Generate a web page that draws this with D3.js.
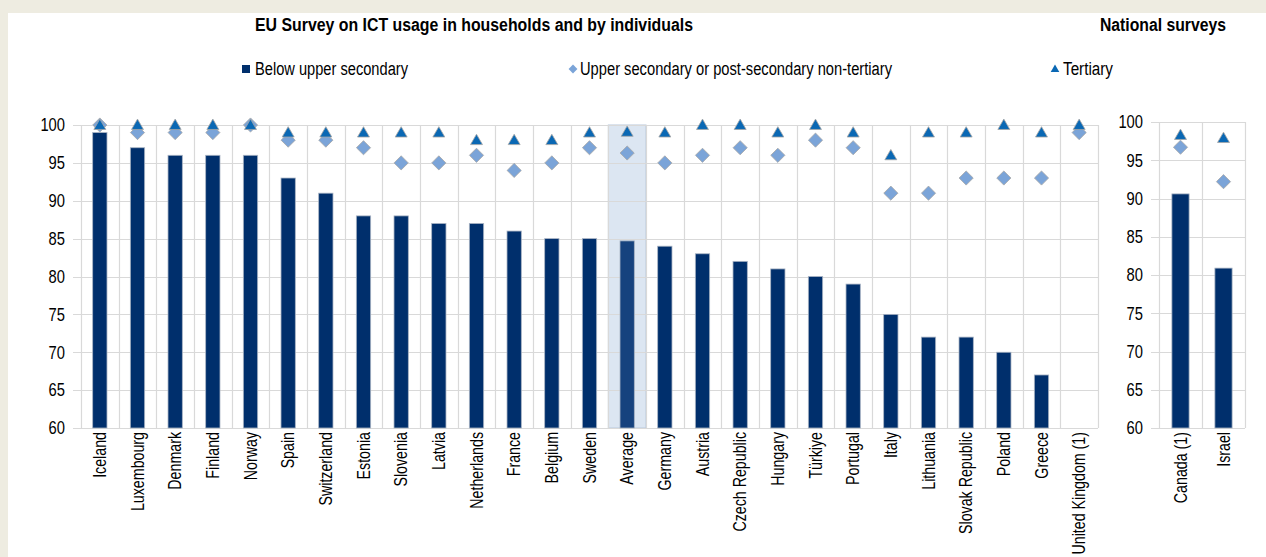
<!DOCTYPE html>
<html><head><meta charset="utf-8">
<script src="https://cdn.jsdelivr.net/npm/d3@7"></script>
<style>
html,body{margin:0;padding:0;background:#EEECE1;}
svg{display:block;}
</style></head>
<body>
<script>
const categories = ["Iceland","Luxembourg","Denmark","Finland","Norway","Spain","Switzerland","Estonia","Slovenia","Latvia","Netherlands","France","Belgium","Sweden","Average","Germany","Austria","Czech Republic","Hungary","Türkiye","Portugal","Italy","Lithuania","Slovak Republic","Poland","Greece","United Kingdom (1)"];
const belowUpper = [99,97,96,96,96,93,91,88,88,87,87,86,85,85,84.7,84,83,82,81,80,79,75,72,72,70,67,null];
const upperSecondary = [100,99,99,99,100,98,98,97,95,95,96,94,95,97,96.3,95,96,97,96,98,97,91,91,93,93,93,99];
const tertiary = [100,100,100,100,100,99,99,99,99,99,98,98,98,99,99.1,99,100,100,99,100,99,96,99,99,100,99,100];

const natCategories = ["Canada (1)","Israel"];
const natBelowUpper = [90.6, 80.9];
const natUpperSecondary = [96.7, 92.2];
const natTertiary = [98.3, 97.9];

const yTicks = [60,65,70,75,80,85,90,95,100];
const seriesNames = ["Below upper secondary","Upper secondary or post-secondary non-tertiary","Tertiary"];
const titles = ["EU Survey on ICT usage in households and by individuals","National surveys"];

const W = 1266, H = 557;
const SANS = "'Liberation Sans',Arial,sans-serif";
const SX = 0.82; // condensed look
const SXC = 0.79;
const C_BAR = "#002F6C", C_AVG = "#16427E", C_DIA = "#7BA4D8", C_TRI = "#0A68B4", C_GRID = "#D9D9D9";

const svg = d3.select("body").append("svg").attr("width", W).attr("height", H);
svg.append("rect").attr("x",0).attr("y",0).attr("width",W).attr("height",H).attr("fill","#EEECE1");
svg.append("rect").attr("x",8).attr("y",13).attr("width",W-8).attr("height",H-13).attr("fill","#fff");

function fitText(g, x, y, str, len, bold){
  return g.append("text").attr("x",x).attr("y",y).attr("font-family",SANS).attr("font-size",18)
    .attr("font-weight",bold?"bold":"normal").attr("fill","#000")
    .attr("textLength",len).attr("lengthAdjust","spacingAndGlyphs").text(str);
}

fitText(svg, 255, 31, titles[0], 438, true);
fitText(svg, 1100, 31, titles[1], 126, true);

const lg = svg.append("g");
lg.append("rect").attr("x",242).attr("y",65).attr("width",8).attr("height",8).attr("fill",C_BAR);
fitText(lg, 255, 75, seriesNames[0], 153, false);
lg.append("path").attr("d",d3.symbol(d3.symbolDiamond2, 50)()).attr("transform","translate(573,69)").attr("fill",C_DIA);
fitText(lg, 580, 75, seriesNames[1], 312, false);
lg.append("path").attr("d",d3.symbol(d3.symbolTriangle, 32)()).attr("transform","translate(1055,69.5)").attr("fill",C_TRI);
fitText(lg, 1063, 75, seriesNames[2], 50, false);

function panel(opts){
  const {cats, below, upper, tert, x0, x1, yTop, yBot, barFrac, labelX, highlight} = opts;
  const g = svg.append("g");
  const x = d3.scaleBand().domain(cats).range([x0,x1]).padding(0);
  const y = d3.scaleLinear().domain([60,100]).range([yBot,yTop]);
  const bw = x.bandwidth()*barFrac;

  if (highlight){
    g.append("rect").attr("x",x(highlight)).attr("y",yTop).attr("width",x.bandwidth()).attr("height",yBot-yTop)
      .attr("fill","#DCE6F2").attr("stroke","#B8C8DC").attr("stroke-width",1);
  }
  g.selectAll(".hg").data(yTicks).join("line")
    .attr("x1",x0-8).attr("x2",x1).attr("y1",d=>Math.round(y(d))+0.5).attr("y2",d=>Math.round(y(d))+0.5)
    .attr("stroke",C_GRID).attr("stroke-width",1.2);
  const bounds = cats.map(c=>x(c)).concat([x1]);
  g.selectAll(".vg").data(bounds).join("line")
    .attr("x1",d=>Math.round(d)+0.5).attr("x2",d=>Math.round(d)+0.5).attr("y1",yTop).attr("y2",yBot)
    .attr("stroke",C_GRID).attr("stroke-width",1.2);

  g.selectAll(".yl").data(yTicks).join("text")
    .attr("transform",d=>`translate(${labelX},${y(d)}) scale(${SX},1)`)
    .attr("dy","0.35em").attr("text-anchor","end")
    .attr("font-family",SANS).attr("font-size",18).attr("fill","#000").text(d=>d);

  const bdata = cats.map((c,i)=>({c, v: below[i]})).filter(d=>d.v!=null);
  g.selectAll(".bar").data(bdata).join("rect")
    .attr("x",d=>x(d.c)+x.bandwidth()/2-bw/2).attr("width",bw)
    .attr("y",d=>y(d.v)).attr("height",d=>yBot-y(d.v))
    .attr("fill",d=>d.c===highlight?C_AVG:C_BAR).attr("stroke","#A9B4C4").attr("stroke-width",0.8);

  g.selectAll(".dia").data(cats.map((c,i)=>({c,v:upper[i]}))).join("path")
    .attr("d",d3.symbol(d3.symbolDiamond2, 128)())
    .attr("transform",d=>`translate(${x(d.c)+x.bandwidth()/2},${y(d.v)})`)
    .attr("fill",C_DIA).attr("stroke","#A6A6A6").attr("stroke-width",0.8);

  g.selectAll(".tri").data(cats.map((c,i)=>({c,v:tert[i]}))).join("path")
    .attr("d",d3.symbol(d3.symbolTriangle, 62)())
    .attr("transform",d=>`translate(${x(d.c)+x.bandwidth()/2},${y(d.v)+1})`)
    .attr("fill",C_TRI).attr("stroke","#A6A6A6").attr("stroke-width",0.8);

  g.selectAll(".cl").data(cats).join("text")
    .attr("transform",d=>`translate(${x(d)+x.bandwidth()/2},${yBot+4}) rotate(-90) scale(${SXC},1)`)
    .attr("dy","0.35em").attr("text-anchor","end")
    .attr("font-family",SANS).attr("font-size",18).attr("fill","#000").text(d=>d);
}

panel({cats:categories, below:belowUpper, upper:upperSecondary, tert:tertiary,
  x0:81, x1:1098, yTop:125, yBot:428, barFrac:0.38, labelX:65, highlight:"Average"});
panel({cats:natCategories, below:natBelowUpper, upper:natUpperSecondary, tert:natTertiary,
  x0:1159, x1:1245, yTop:122, yBot:428, barFrac:0.4, labelX:1143, highlight:null});
</script>
</body></html>
